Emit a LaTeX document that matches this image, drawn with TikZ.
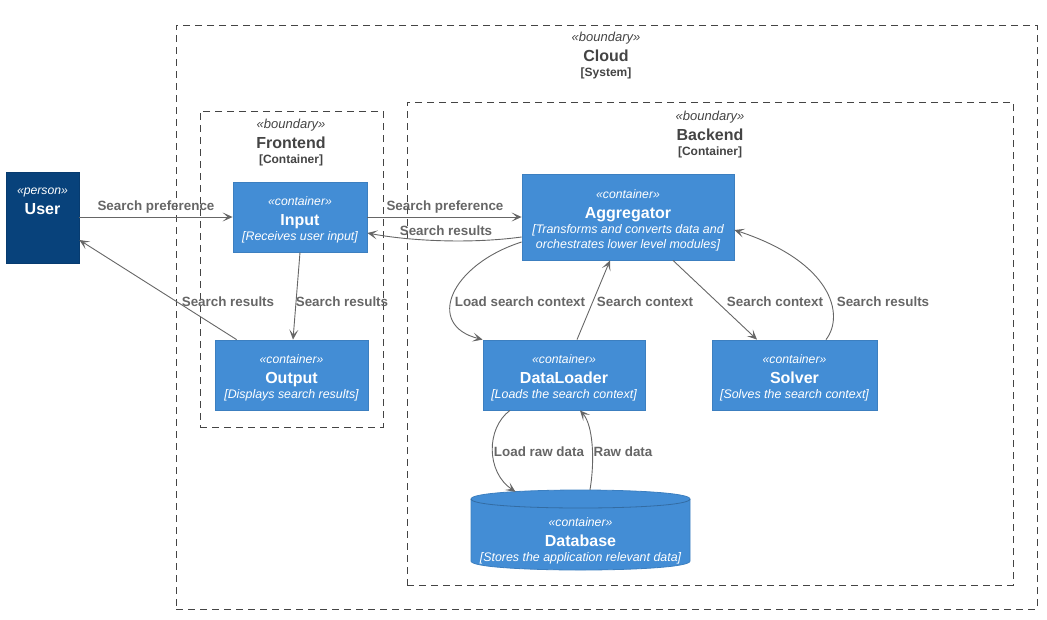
\documentclass[tikz,border=0pt]{standalone}
\usepackage{fontspec}
\setmainfont{Liberation Sans}
\usetikzlibrary{arrows.meta,calc}
\definecolor{cfill}{HTML}{438DD5}
\definecolor{cborder}{HTML}{3C7FC0}
\definecolor{pfill}{HTML}{08427B}
\definecolor{pborder}{HTML}{073B6F}
\definecolor{lcol}{HTML}{666666}
\definecolor{bcol}{HTML}{444444}
\newcommand\stereo[1]{{\fontsize{12.2}{15}\selectfont\itshape «#1»}}
\newcommand\bstereo[1]{{\fontsize{13}{15}\selectfont\itshape «#1»}}
\newcommand\ttl[1]{{\fontsize{16}{15}\selectfont\bfseries #1}}
\newcommand\btag[1]{{\fontsize{12}{15}\selectfont\bfseries #1}}
\newcommand\dsc[1]{{\fontsize{12.4}{15}\selectfont\itshape #1}}
\begin{document}
\begin{tikzpicture}[x=1pt,y=-1pt,
 container/.style={draw=cborder, fill=cfill, inner sep=0pt, line width=0.8pt},
 personbox/.style={draw=pborder, fill=pfill, inner sep=0pt, line width=0.8pt},
 ctext/.style={text=white, align=center, inner sep=0pt, font=\fontsize{12}{15}\selectfont},
 bnd/.style={draw=bcol, dash pattern=on 7pt off 5pt, line width=0.8pt, inner sep=0pt},
 btext/.style={text=bcol, align=center, inner sep=0pt, font=\fontsize{12}{15}\selectfont},
 conn/.style={draw=lcol, line width=0.9pt, -{Stealth[length=10pt,width=9pt,inset=5pt]}},
 lbl/.style={text=lcol, font=\fontsize{13.4}{15}\selectfont\bfseries, inner sep=0pt}
]
\useasboundingbox (0,0) rectangle (1047,619);
% boundaries
\node[bnd, minimum width=861, minimum height=584] (cloud) at (606.5,317) {};
\node[btext] (cloud-t) at (606,56) {\bstereo{boundary}\\[5pt]\ttl{Cloud}\\\btag{[System]}};
\node[bnd, minimum width=183, minimum height=316] (frontend) at (291.5,269) {};
\node[btext] (frontend-t) at (291,142.3) {\bstereo{boundary}\\[5pt]\ttl{Frontend}\\\btag{[Container]}};
\node[bnd, minimum width=606, minimum height=483] (backend) at (710,343.5) {};
\node[btext] (backend-t) at (710,134.5) {\bstereo{boundary}\\[5pt]\ttl{Backend}\\\btag{[Container]}};
% person
\node[personbox, minimum width=73, minimum height=91] (user) at (42.5,217.5) {};
\node[ctext] (user-t) at (42.5,201) {\stereo{person}\\[5pt]\ttl{User}};
% containers
\node[container, minimum width=134, minimum height=70] (input) at (300,217) {};
\node[ctext] (input-t) at (300,219.5) {\stereo{container}\\[5pt]\ttl{Input}\\\dsc{[Receives user input]}};
\node[container, minimum width=153, minimum height=70] (output) at (291.5,375) {};
\node[ctext] (output-t) at (291.5,378) {\stereo{container}\\[5pt]\ttl{Output}\\\dsc{[Displays search results]}};
\node[container, minimum width=212, minimum height=86] (agg) at (628,217) {};
\node[ctext] (agg-t) at (628,220.5) {\stereo{container}\\[5pt]\ttl{Aggregator}\\\dsc{[Transforms and converts data and}\\\dsc{orchestrates lower level modules]}};
\node[container, minimum width=162, minimum height=70] (dl) at (564,375) {};
\node[ctext] (dl-t) at (564,378) {\stereo{container}\\[5pt]\ttl{DataLoader}\\\dsc{[Loads the search context]}};
\node[container, minimum width=165, minimum height=70] (solver) at (794.5,375) {};
\node[ctext] (solver-t) at (794.5,378) {\stereo{container}\\[5pt]\ttl{Solver}\\\dsc{[Solves the search context]}};
% database cylinder
\node[inner sep=0pt, minimum width=219, minimum height=80] (db) at (580.5,530) {};
\path[fill=cfill, draw=cborder, line width=0.8pt] (471,499) .. controls (471,487) and (690,487) .. (690,499) -- (690,561) .. controls (690,573) and (471,573) .. (471,561) -- cycle;
\draw[cborder!85!black, line width=0.8pt] (471,499) .. controls (471,511) and (690,511) .. (690,499);
\node[ctext] (db-t) at (580.5,540.5) {\stereo{container}\\[5pt]\ttl{Database}\\\dsc{[Stores the application relevant data]}};
% connectors
\draw[conn] (user.east |- input.west) -- (input.west);
\node[lbl] (l1) at (156,207) {Search preference};
\draw[conn] (input.south) -- ($(output.north)+(1.5,0)$);
\node[lbl] (l2) at (342,302) {Search results};
\draw[conn] ($(output.north west)+(22,0)$) -- ($(user.east)+(0,22.5)$);
\node[lbl] (l3) at (228,302) {Search results};
\draw[conn] (input.east) -- (input.east -| agg.west);
\node[lbl] (l4) at (445,207) {Search preference};
\draw[conn] ($(agg.west)+(0,20)$) .. controls (470,244) and (410,241) .. ($(input.east)+(0,16)$);
\node[lbl] (l5) at (446,230.5) {Search results};
\draw[conn] ($(agg.west)+(0,25)$) .. controls (450,265) and (425,325) .. (dl.north west);
\node[lbl] (l6) at (520,302) {Load search context};
\draw[conn] ($(dl.north)+(13,0)$) -- ($(agg.south)+(-18,0)$);
\node[lbl] (l7) at (645,302) {Search context};
\draw[conn] ($(agg.south)+(45,0)$) -- ($(solver.north)+(-37.5,0)$);
\node[lbl] (l8) at (775,302) {Search context};
\draw[conn] ($(solver.north)+(31.5,0)$) .. controls (845,315) and (832,262) .. ($(agg.east)+(0,13)$);
\node[lbl] (l9) at (883,302) {Search results};
\draw[conn] ($(dl.south)+(-54,0)$) .. controls (486,428) and (486,472) .. ($(db.north)+(-65,2)$);
\node[lbl] (l10) at (539,452) {Load raw data};
\draw[conn] ($(db.north)+(9.5,0)$) .. controls (595,460) and (593,425) .. ($(dl.south)+(16,0)$);
\node[lbl] (l11) at (623,452) {Raw data};
\end{tikzpicture}
\end{document}
